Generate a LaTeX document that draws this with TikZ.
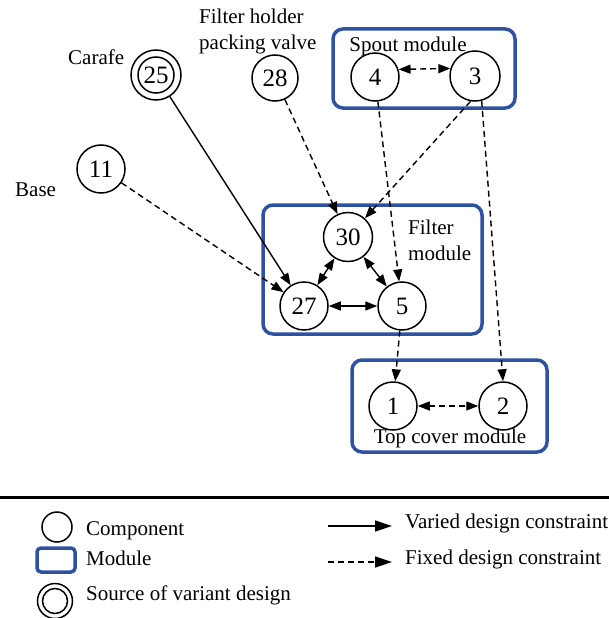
\documentclass[tikz,border=0pt]{standalone}
\usepackage{fontspec}
\setmainfont{Liberation Serif}
\usetikzlibrary{arrows.meta}
\definecolor{modblue}{RGB}{46,82,163}
\tikzset{
  comp/.style={circle,draw,line width=1.5pt,minimum size=48pt,inner sep=0pt,font=\fontsize{25}{28}\selectfont},
  module/.style={draw=modblue,line width=3.5pt,rounded corners=10pt},
  lbl/.style={font=\fontsize{21}{26}\selectfont,inner sep=0pt},
  arr/.style={line width=1.4pt,-{Triangle[length=12pt,width=9pt]}},
  darr/.style={line width=1.4pt,{Triangle[length=12pt,width=9pt]}-{Triangle[length=12pt,width=9pt]}},
  fixed/.style={dash pattern=on 6pt off 4pt},
  legarr/.style={line width=1.4pt,-{Triangle[length=17pt,width=11pt]}}
}
\begin{document}
\begin{tikzpicture}[x=1pt,y=-1pt]
\useasboundingbox (0,0) rectangle (609,618);
% modules
\draw[module] (333,29) rectangle (515,108);
\draw[module] (263,205) rectangle (482,334);
\draw[module] (352,360) rectangle (547,452);
\node[lbl] (spoutlbl) at (408,46) {Spout module};
\node[lbl,align=left,anchor=west] (filterlbl) at (408,240) {Filter\\module};
\node[lbl] (toplbl) at (450,438) {Top cover module};
% components
\node[comp,minimum size=50pt] (n25) at (156,75) {25};
\draw[line width=1.5pt] (n25.center) circle[radius=18];
\node[comp,minimum size=46pt] (n28) at (275,78) {28};
\node[comp] (n11) at (101,169) {11};
\node[comp] (n4) at (375,77) {4};
\node[comp,minimum size=50pt] (n3) at (475,76) {3};
\node[comp,minimum size=49pt] (n30) at (348,237) {30};
\node[comp] (n27) at (304,306) {27};
\node[comp] (n5) at (402,306) {5};
\node[comp] (n1) at (393,406) {1};
\node[comp] (n2) at (503,406) {2};
% labels
\node[lbl,anchor=mid west] (carafe) at (68,62) {Carafe};
\node[lbl,anchor=mid west] (base) at (15,194) {Base};
\node[lbl,align=left,anchor=west] (holder) at (199,31) {Filter holder\\packing valve};
% connectors
\draw[darr,fixed] (n4.18) -- (n3.163);
\draw[arr,fixed] (n4) -- (n5);
\draw[arr,fixed] (n3.-100) -- (n30);
\draw[arr,fixed] (n3.-75) -- (n2.north);
\draw[arr,fixed] (n28) -- (n30);
\draw[arr] (n25) -- (n27);
\draw[arr,fixed] (n11) -- (n27);
\draw[darr] (n30) -- (n27);
\draw[darr] (n30) -- (n5);
\draw[darr] (n27) -- (n5);
\draw[arr,fixed] (n5) -- (n1);
\draw[darr,fixed] (n1) -- (n2);
% legend
\coordinate (la) at (0,497);
\coordinate (lb) at (609,497);
\draw[line width=3pt] (la) -- (lb);
\node[circle,draw,line width=1.5pt,minimum size=30pt,inner sep=0pt] (lcomp) at (57,527) {};
\node[lbl,anchor=mid west] (tcomp) at (86,533) {Component};
\draw[module,line width=3.5pt,rounded corners=4pt] (37,548) rectangle (75,572);
\node[lbl,anchor=mid west] (tmod) at (86,563) {Module};
\node[circle,draw,line width=1.5pt,minimum size=35pt,inner sep=0pt] (lsrc) at (55,601) {};
\draw[line width=1.5pt] (lsrc.center) circle[radius=12.5];
\node[lbl,anchor=mid west] (tsrc) at (86,598) {Source of variant design};
\coordinate (v1) at (328,526);
\coordinate (v2) at (392,526);
\draw[legarr] (v1) -- (v2);
\node[lbl,anchor=mid west] (tvar) at (405,526) {Varied design constraint};
\coordinate (f1) at (328,562);
\coordinate (f2) at (392,562);
\draw[legarr,fixed] (f1) -- (f2);
\node[lbl,anchor=mid west] (tfix) at (405,562) {Fixed design constraint};
\end{tikzpicture}
\end{document}
